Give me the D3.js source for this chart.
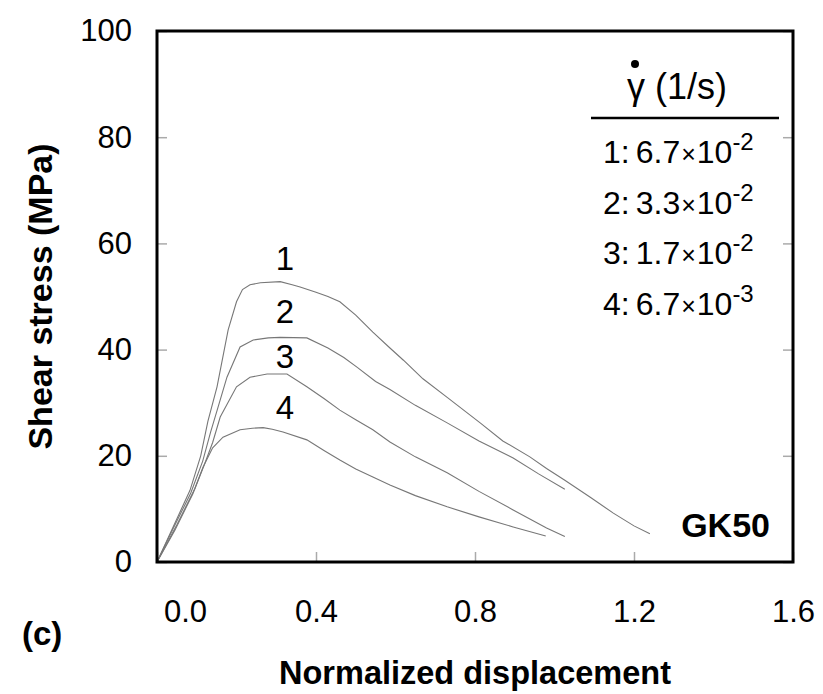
<!DOCTYPE html>
<html>
<head>
<meta charset="utf-8">
<script src="https://cdn.jsdelivr.net/npm/d3@7/dist/d3.min.js"></script>
<style>
  html, body { margin: 0; padding: 0; background: #fff; }
  svg { display: block; }
  text { font-family: "Liberation Sans", Arial, sans-serif; fill: #000; }
</style>
</head>
<body>
<svg id="chart" width="823" height="694"></svg>
<script>
// ---------------- data ----------------
const xTicks = [0.0, 0.4, 0.8, 1.2, 1.6];
const yTicks = [0, 20, 40, 60, 80, 100];

const curve1 = [[0,0],[0.04,6.5],[0.083,13.5],[0.11,20],[0.128,26.5],[0.151,33],[0.179,43.7],[0.2,49],[0.215,51.3],[0.234,52.2],[0.26,52.6],[0.31,52.8],[0.34,52.2],[0.36,51.8],[0.4,50.8],[0.43,50],[0.46,49],[0.5,46.5],[0.543,43.3],[0.586,40.3],[0.62,38],[0.669,34.5],[0.73,31],[0.813,26.2],[0.87,22.8],[0.938,19.8],[0.98,17.6],[1.026,15.4],[1.09,12.2],[1.148,9.2],[1.2,6.8],[1.24,5.3]];
const curve2 = [[0,0],[0.04,6.2],[0.085,13],[0.115,19],[0.135,24.5],[0.151,28.5],[0.176,34.8],[0.209,40.5],[0.242,41.8],[0.28,42.2],[0.31,42.3],[0.377,42.2],[0.43,40.3],[0.47,38.5],[0.503,36.7],[0.55,34],[0.586,32.5],[0.65,29.5],[0.73,26.2],[0.81,22.8],[0.896,19.6],[0.96,16.6],[1.026,13.7]];
const curve3 = [[0,0],[0.045,6],[0.09,12.8],[0.12,18.5],[0.14,22.5],[0.159,27.3],[0.2,33],[0.234,34.8],[0.277,35.4],[0.327,35.4],[0.377,33],[0.42,30.8],[0.46,28.6],[0.5,26.8],[0.543,24.9],[0.586,22.6],[0.65,19.8],[0.73,16.8],[0.81,13.3],[0.896,9.8],[0.98,6.4],[1.026,4.8]];
const curve4 = [[0,0],[0.05,7],[0.095,13.8],[0.116,17.9],[0.14,21.5],[0.166,23.5],[0.209,24.9],[0.24,25.2],[0.267,25.3],[0.29,25],[0.317,24.5],[0.377,23],[0.42,21],[0.46,19.2],[0.5,17.5],[0.543,16],[0.586,14.5],[0.65,12.5],[0.73,10.4],[0.81,8.5],[0.896,6.6],[0.978,4.9]];
const curves = [curve1, curve2, curve3, curve4];

const curveLabels = ["1", "2", "3", "4"];
const curveLabelPos = [[0.322, 55], [0.322, 45], [0.322, 36.5], [0.322, 26.9]];

const legendTitle = "(1/s)";
const legendIds = ["1:", "2:", "3:", "4:"];
const legendMant = ["6.7", "3.3", "1.7", "6.7"];
const legendExp = ["-2", "-2", "-2", "-3"];

const xTitle = "Normalized displacement";
const yTitle = "Shear stress (MPa)";
const panelLabel = "(c)";
const sampleLabel = "GK50";

// ---------------- layout ----------------
const L = 157, R = 793, T = 31, B = 562;
const svg = d3.select("#chart");
const x = d3.scaleLinear().domain([0, 1.6]).range([L, R]);
const y = d3.scaleLinear().domain([0, 100]).range([B, T]);

// ticks (inward, grey)
const gx = svg.append("g").attr("transform", `translate(0,${B})`)
  .call(d3.axisBottom(x).tickValues(xTicks).tickFormat(d3.format(".1f")).tickSize(-10).tickPadding(38));
gx.select(".domain").remove();
gx.selectAll("line").attr("stroke", "#aaa").attr("stroke-width", 1.5);
gx.selectAll("text").attr("font-size", 31).attr("fill", "#000")
  .attr("font-family", '"Liberation Sans", Arial, sans-serif')
  .attr("dx", d => d === 0 ? 28 : 0);

const gy = svg.append("g").attr("transform", `translate(${L},0)`)
  .call(d3.axisLeft(y).tickValues(yTicks).tickFormat(d3.format("d")).tickSize(-10).tickPadding(25));
gy.select(".domain").remove();
gy.selectAll("line").attr("stroke", "#aaa").attr("stroke-width", 1.5);
gy.selectAll("text").attr("font-size", 31).attr("fill", "#000")
  .attr("font-family", '"Liberation Sans", Arial, sans-serif');

const gyr = svg.append("g").attr("transform", `translate(${R},0)`)
  .call(d3.axisRight(y).tickValues(yTicks).tickFormat("").tickSize(-10));
gyr.select(".domain").remove();
gyr.selectAll("line").attr("stroke", "#aaa").attr("stroke-width", 1.5);

// curves
const line = d3.line().x(d => x(d[0])).y(d => y(d[1]));
svg.append("g").selectAll("path").data(curves).join("path")
  .attr("d", line).attr("fill", "none").attr("stroke", "#777").attr("stroke-width", 1.1);

// frame
svg.append("rect").attr("x", L).attr("y", T).attr("width", R - L).attr("height", B - T)
  .attr("fill", "none").attr("stroke", "#000").attr("stroke-width", 3);

// curve labels
svg.append("g").selectAll("text").data(curveLabels).join("text")
  .attr("x", (d, i) => x(curveLabelPos[i][0])).attr("y", (d, i) => y(curveLabelPos[i][1]))
  .attr("text-anchor", "middle").attr("font-size", 33).text(d => d);

// sample label
svg.append("text").attr("x", 770).attr("y", 537).attr("text-anchor", "end")
  .attr("font-size", 34).attr("font-weight", "bold").text(sampleLabel);

// legend
const lg = svg.append("g");
const hdr = lg.append("text").attr("x", 627).attr("y", 99)
  .attr("font-family", '"Liberation Serif", "Times New Roman", serif').attr("font-size", 36);
hdr.append("tspan").text("γ");
hdr.append("tspan").attr("dx", 10).text(legendTitle);
lg.append("circle").attr("cx", 635).attr("cy", 64).attr("r", 4).attr("fill", "#000");
lg.append("line").attr("x1", 591).attr("x2", 779).attr("y1", 118).attr("y2", 118)
  .attr("stroke", "#000").attr("stroke-width", 2.5);

const rowBase = [163, 214, 264, 315];
legendIds.forEach((id, i) => {
  const t = lg.append("text").attr("x", 603).attr("y", rowBase[i]).attr("font-size", 32);
  t.append("tspan").text(id);
  t.append("tspan").attr("dx", 6).text(legendMant[i]);
  t.append("tspan").attr("font-size", 25).attr("dx", 1).text("×");
  t.append("tspan").attr("dx", 1).text("10");
  t.append("tspan").attr("font-size", 24).attr("dy", -13).text(legendExp[i]);
});

// axis titles
svg.append("text").attr("x", (L + R) / 2).attr("y", 684).attr("text-anchor", "middle")
  .attr("font-size", 32.5).attr("font-weight", "bold").text(xTitle);
svg.append("text").attr("transform", `translate(52,${(T + B) / 2}) rotate(-90)`)
  .attr("text-anchor", "middle").attr("font-size", 34).attr("font-weight", "bold").text(yTitle);
svg.append("text").attr("x", 22).attr("y", 645)
  .attr("font-size", 33).attr("font-weight", "bold").text(panelLabel);
</script>
</body>
</html>
